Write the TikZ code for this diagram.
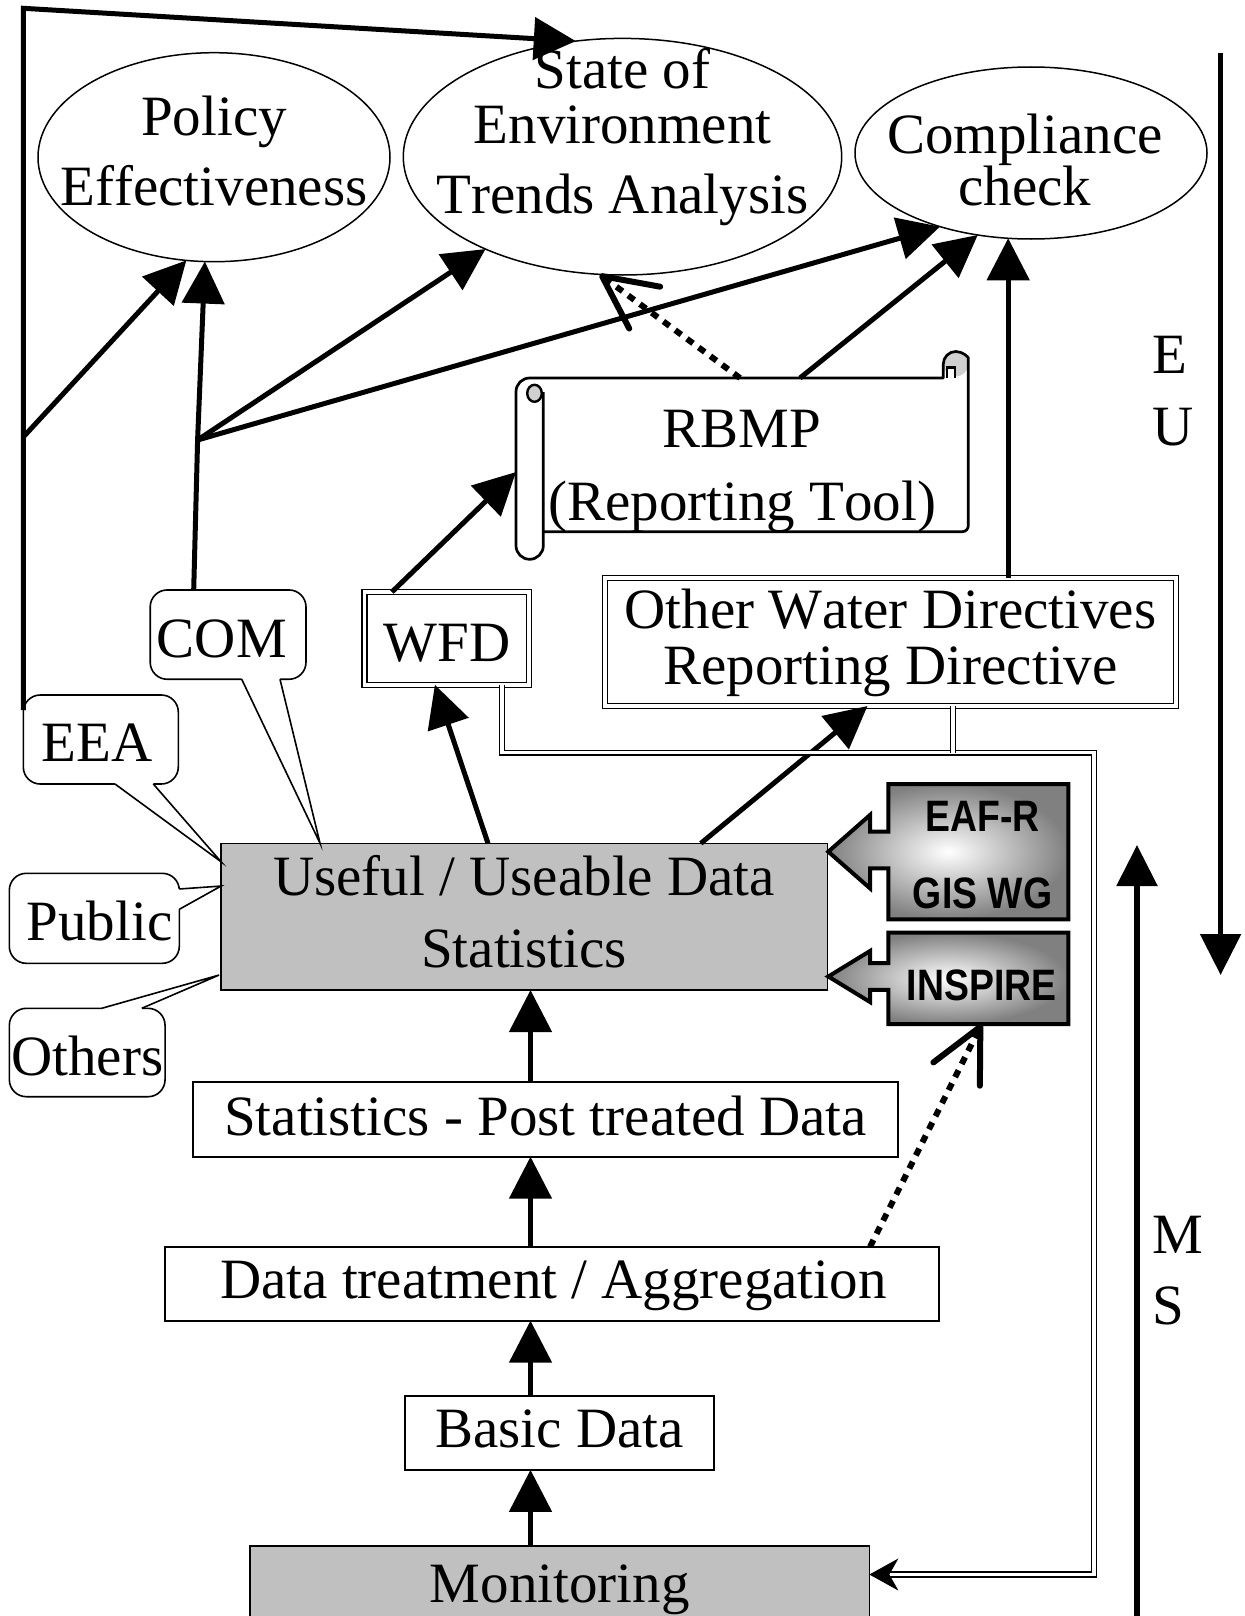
\documentclass[tikz,border=0pt]{standalone}
\usepackage{fontspec}
\usepackage{graphicx}
\setmainfont{Liberation Serif}[Kerning=Off]
\newfontfamily\tagfont{Liberation Sans}[Kerning=Off]
\usetikzlibrary{arrows.meta,shapes.geometric,calc}

\definecolor{panelgrey}{HTML}{C0C0C0}
\definecolor{curlgrey}{HTML}{D0D0D0}

% centred lines with a fixed baseline distance; the box baseline is the first line
\newcommand\rows[2]{\vtop{\baselineskip=#1\lineskiplimit=-\maxdimen\lineskip=0pt\halign{\hfil##\hfil\cr#2\crcr}}}
\newcommand\lrows[2]{\vtop{\baselineskip=#1\lineskiplimit=-\maxdimen\lineskip=0pt\halign{##\hfil\cr#2\crcr}}}
% zero-width text block, optionally moved sideways
\newcommand\ctr[3][0pt]{\makebox[0pt]{\kern#1\rows{#2}{#3}\kern-#1}}

\begin{document}
\begin{tikzpicture}[x=0.5pt,y=-0.5pt,
  every node/.style={inner sep=0pt,outer sep=0pt},
  txt/.style={font=\fontsize{28.5pt}{34pt}\selectfont},
  ell/.style={ellipse,draw,line width=0.75pt,txt},
  plain box/.style={rectangle,draw,line width=1pt,fill=white,txt},
  grey box/.style={plain box,fill=panelgrey,line width=0.8pt},
  dbl box/.style={rectangle,draw,double,double distance=1.8pt,line width=0.7pt,txt},
  bubble/.style={rectangle,draw,rounded corners=8.5pt,line width=0.8pt,fill=white,txt},
  tail/.style={line width=0.8pt,line join=miter},
  flow/.style={line width=2.5pt,-{Triangle[length=21pt,width=21pt]}},
  hint/.style={line width=3pt,line cap=butt,dash pattern=on 3.8pt off 3.5pt,-{Straight Barb[length=26.5pt,width=26pt,round]}},
  dline/.style={double,double distance=1.6pt,line width=0.75pt},
  scroll/.style={line width=1.35pt,line join=round},
  tagbox/.style={line width=2pt,inner color=white,outer color=black!50},
  tag/.style={font=\tagfont\bfseries\fontsize{22pt}{26pt}\selectfont},
  side/.style={txt,anchor=base west},
  bigarrow/.style={line width=2.75pt,-{Triangle[length=20.5pt,width=20pt]}},
]
\fill[white] (0,0) rectangle (1245,1616);
\useasboundingbox (0,0) rectangle (1245,1616);

% ---- goals -------------------------------------------------------------
\node[ell,minimum width=176pt,minimum height=104.5pt,text height=0pt,text depth=22.2pt]
  (pe) at (214,157.2) {\ctr{35pt}{Policy\cr Effectiveness}};
\node[ell,minimum width=219.2pt,minimum height=118.3pt,text height=0pt,text depth=68.4pt]
  (soe) at (622.5,156.7) {\ctr{27.5pt}{State of\cr Environment\cr\noalign{\kern7.5pt}Trends Analysis}};
\node[ell,minimum width=176pt,minimum height=86pt,text height=0.3pt,text depth=0pt]
  (cc) at (1031,153) {\ctr[-3pt]{26pt}{Compliance\cr check}};

% ---- reporting tool scroll ---------------------------------------------
\fill[curlgrey] (955.8,364) circle[radius=12.5];
\draw[scroll] (543.3,531.7) [rounded corners=3pt] -- (968.3,531.7) -- (968.3,364) [sharp corners]
  arc[start angle=360,end angle=180,radius=12.5] -- (943.3,378) -- (529.65,378)
  arc[start angle=270,end angle=180,radius=13.65] -- (516,545.65)
  arc[start angle=180,end angle=0,radius=13.65] -- (543.3,392);
\filldraw[fill=curlgrey,line width=1.2pt] (534.5,393.3) ellipse[x radius=7.3,y radius=8.5];
\draw[line width=1.2pt,fill=white] (946.7,378) -- (946.7,367.5) -- (955,367.5) -- (955,378);
\node[txt,minimum width=226.15pt,minimum height=77pt,text height=0pt,text depth=8pt]
  (rbmp) at (742.15,455) {\ctr{36.5pt}{RBMP\cr (Reporting Tool)}};

% ---- directives ----------------------------------------------------------
\node[dbl box,minimum width=82.3pt,minimum height=46.4pt,text height=22.6pt,text depth=0pt]
  (wfd) at (446.9,638.4) {\ctr{1pt}{WFD}};
\node[dbl box,minimum width=285.5pt,minimum height=64pt,text height=0pt,text depth=13.4pt]
  (owd) at (890.5,642) {\ctr{27.7pt}{Other Water Directives\cr Reporting Directive}};

% ---- data chain ----------------------------------------------------------
\node[grey box,minimum width=303.15pt,minimum height=73.35pt,text height=0pt,text depth=21pt]
  (use) at (524.2,916.7) {\ctr{36pt}{Useful / Useable Data\cr Statistics}};
\node[plain box,minimum width=352.2pt,minimum height=37.2pt,text height=15.5pt,text depth=0pt]
  (stat) at (545.5,1119.5) {\ctr{1pt}{Statistics - Post treated Data}};
\node[plain box,minimum width=387.15pt,minimum height=36.95pt,text height=14.3pt,text depth=0pt]
  (agg) at (552.2,1283.7) {\ctr[0.6pt]{1pt}{Data treatment / Aggregation}};
\node[plain box,minimum width=154.5pt,minimum height=37.05pt,text height=14.2pt,text depth=0pt]
  (basic) at (559.5,1432.8) {\ctr{1pt}{Basic Data}};
\node[grey box,minimum width=309.65pt,minimum height=52pt,text height=4pt,text depth=0pt]
  (mon) at (559.7,1598) {\ctr{1pt}{Monitoring}};

% ---- stakeholder bubbles -------------------------------------------------
\node[bubble,minimum width=77.5pt,minimum height=44.5pt,text height=22.2pt,text depth=0pt]
  (eea) at (100.8,739.5) {\ctr[-2pt]{1pt}{EEA}};
\node[bubble,minimum width=77.9pt,minimum height=44.65pt,text height=22.4pt,text depth=0pt]
  (com) at (228.1,634.6) {\ctr[-3.15pt]{1pt}{COM}};
\node[bubble,minimum width=85pt,minimum height=45pt,text height=21.7pt,text depth=0pt]
  (pub) at (94.3,918.3) {\ctr[2.6pt]{1pt}{Public}};
\node[bubble,minimum width=77.85pt,minimum height=44.2pt,text height=22.5pt,text depth=0pt]
  (oth) at (87.2,1052.5) {\ctr{1pt}{Others}};

% bubble pointers
\coordinate (eeaA) at ($(eea.south west)+(91.7,0)$);
\coordinate (eeaB) at ($(eea.south west)+(130,0)$);
\coordinate (eeaT) at ($(use.north west)+(0,18.4)$);
\fill[white] ($(eeaA)+(0,-2)$) -- (eeaA) -- (eeaT) -- (eeaB) -- ($(eeaB)+(0,-2)$) -- cycle;
\draw[tail] (eeaA) -- (eeaT) -- (eeaB);

\coordinate (comA) at ($(com.south west)+(91.5,0)$);
\coordinate (comB) at ($(com.south west)+(129.8,0)$);
\coordinate (comT) at ($(use.north west)+(99,0)$);
\fill[white] ($(comA)+(0,-2)$) -- (comA) -- (comT) -- (comB) -- ($(comB)+(0,-2)$) -- cycle;
\draw[tail] (comA) -- (comT) -- (comB);

\coordinate (pubA) at ($(pub.north east)+(0,15.7)$);
\coordinate (pubB) at ($(pub.north east)+(0,36)$);
\coordinate (pubT) at ($(use.north west)+(0,42.7)$);
\fill[white] ($(pubA)+(-2,0)$) -- (pubA) -- (pubT) -- (pubB) -- ($(pubB)+(-2,0)$) -- cycle;
\draw[tail] (pubA) -- (pubT) -- (pubB);

\coordinate (othA) at ($(oth.north west)+(92.4,0)$);
\coordinate (othB) at ($(oth.north west)+(132.4,0)$);
\coordinate (othT) at ($(use.north west)+(-2,131.7)$);
\fill[white] ($(othA)+(0,2)$) -- (othA) -- (othT) -- (othB) -- ($(othB)+(0,2)$) -- cycle;
\draw[tail] (othA) -- (othT) -- (othB);

% ---- EAF-R / GIS WG and INSPIRE inputs -----------------------------------
\draw[tagbox] (1068.3,784) -- (888.3,784) -- (888.3,831.7) -- (870,831.7) -- (870,815)
  -- (828.3,851.7) -- (870,888.3) -- (870,868.3) -- (888.3,868.3) -- (888.3,919.3)
  -- (1068.3,919.3) -- cycle;
\node[tag,minimum width=90pt,minimum height=67.65pt,text height=0pt,text depth=20pt]
  (eaf) at (978.3,851.65) {\makebox[0pt]{\kern2.1pt\scalebox{0.85}[1]{\rows{38.3pt}{EAF-R\cr GIS WG}}\kern-2.1pt}};
\draw[tagbox] (1068.3,932.7) -- (888.3,932.7) -- (888.3,963.2) -- (870,963.2) -- (870,951)
  -- (828.3,976.5) -- (870,1002) -- (870,989.8) -- (888.3,989.8) -- (888.3,1024)
  -- (1068.3,1024) -- cycle;
\node[tag,minimum width=90pt,minimum height=45.65pt,text height=22.35pt,text depth=0pt]
  (insp) at (978.3,978.35) {\makebox[0pt]{\kern1.7pt\scalebox{0.85}[1]{INSPIRE}\kern-1.7pt}};

% ---- connectors ------------------------------------------------------------
\coordinate (corner) at (23.3,8.3);
\coordinate (K) at (23.3,437);
\coordinate (J) at (197.6,440);
\draw[flow] ($(eea.north west)+(0,15)$) -- (corner) -- (soe.112);
\draw[flow] (K) -- (pe.255);
\draw[flow] ($(com.north)+(-34.4,0)$) -- (J) -- (pe.265);
\draw[flow] (J) -- (soe.214);
\draw[flow] (J) -- (cc.219);
\draw[flow] ($(rbmp.north)+(57.85,0)$) -- (cc.237);
\draw[hint] ($(rbmp.north)+(-2.15,0)$) -- (soe.259);
\draw[flow] (owd.north -| cc.255) -- (cc.255);
\draw[flow] ($(wfd.north)+(-55,0)$) -- ($(rbmp.west)+(0,17)$);
\draw[flow] ($(use.north)+(-36.2,0)$) -- ($(wfd.south)+(-12,0)$);
\draw[flow] ($(use.north)+(176.6,0)$) -- ($(owd.south)+(-23,0)$);

\coordinate (axis) at (530.5,0);
\draw[flow] (mon.north -| axis) -- (basic.south -| axis);
\draw[flow] (basic.north -| axis) -- (agg.south -| axis);
\draw[flow] (agg.north -| axis) -- (stat.south -| axis);
\draw[flow] (stat.north -| axis) -- (use.south -| axis);

\draw[hint] ($(agg.north east)+(-69.3,0)$) -- ($(insp.south)+(3.4,0)$);

% feedback to monitoring
\coordinate (bend1) at (1094,752.7);
\coordinate (bend2) at (1094,1574.5);
\coordinate (owdDrop) at ($(owd.south)+(62.5,0)$);
\draw[dline] ($(wfd.south)+(55.1,0)$) |- (bend1) -- (bend2) -- ($(mon.east)+(18,-23.5)$);
\draw[dline] (owdDrop) -- (owdDrop |- bend1);
\draw[line width=0.75pt,-{Stealth[length=14.5pt,width=16pt,inset=4.5pt]}]
  ($(mon.east)+(19,-23.5)$) -- ($(mon.east)+(0,-23.5)$);

% ---- EU / MS direction arrows --------------------------------------------
\coordinate (euTop) at (1220.6,53);
\coordinate (euEnd) at (1220.6,975);
\draw[bigarrow] (euTop) -- (euEnd);
\coordinate (msBot) at (1137,1640);
\coordinate (msEnd) at (1137,845);
\draw[bigarrow] (msBot) -- (msEnd);
\node[side] (eu) at (1152,373) {\lrows{36pt}{E\cr U}};
\node[side] (ms) at (1152,1253) {\lrows{35.5pt}{M\cr S}};
\end{tikzpicture}
\end{document}
